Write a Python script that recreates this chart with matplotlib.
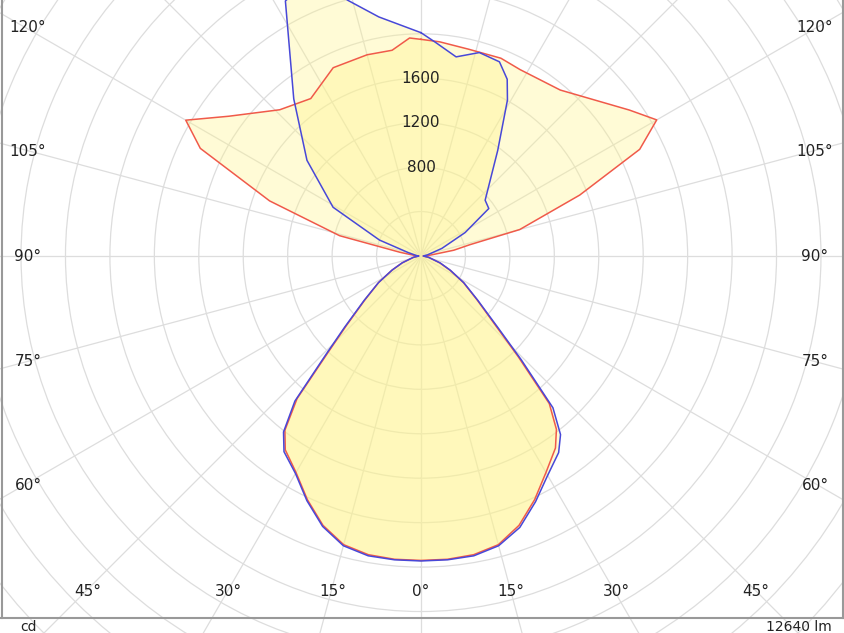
import numpy as np
import matplotlib
matplotlib.use("Agg")
import matplotlib.pyplot as plt

# Red curve (C0-C180 plane), angle in degrees (0 = nadir, + right), intensity cd
red_ang = [-180, -177, -172, -165, -155, -145, -136, -126, -120, -116, -110, -104, -100, -95, -90,
           -80, -70, -64, -58, -52, -47, -44, -41, -38, -35, -30, -25, -20, -15, -10, -5, 0,
           5, 10, 15, 20, 25, 30, 35, 38, 41, 44, 47, 52, 58, 64, 70, 80,
           90, 95, 100, 103, 105, 111, 116, 120, 125, 140, 152, 158, 167, 175, 180]
red_cd = [1950, 1965, 1870, 1875, 1870, 1730, 1830, 2140, 2445, 2210, 1450, 755, 190, 60, 20,
          70, 180, 290, 450, 640, 920, 1200, 1700, 1990, 2130, 2250, 2420, 2580, 2690, 2730, 2740, 2740,
          2740, 2730, 2690, 2580, 2420, 2250, 2110, 1980, 1760, 1260, 920, 640, 450, 290, 180, 70,
          20, 80, 300, 450, 920, 1530, 2190, 2450, 2290, 1950, 1900, 1920, 1910, 1935, 1950]
# Blue curve (C90-C270 plane)
blue_ang = [-180, -170, -164, -159, -152, -141, -130, -119, -111, -105, -95, -90,
            -80, -70, -64, -58, -52, -47, -44, -41, -38, -35, -30, -25, -20, -15, -10, -5, 0,
            5, 10, 15, 20, 25, 30, 35, 38, 41, 44, 47, 52, 58, 64, 70, 80,
            90, 100, 110, 118, 124, 125, 131, 144, 151, 154, 158, 164, 170, 176, 180]
blue_cd = [2010, 2185, 2395, 2700, 2600, 1820, 1340, 905, 400, 120, 40, 20,
           70, 180, 290, 450, 650, 940, 1230, 1730, 2010, 2150, 2260, 2430, 2590, 2700, 2740, 2745, 2745,
           2745, 2740, 2700, 2600, 2440, 2280, 2160, 2040, 1810, 1300, 950, 650, 455, 295, 185, 70,
           20, 60, 200, 450, 680, 745, 765, 1175, 1605, 1770, 1885, 1905, 1820, 1925, 2010]
ring_labels = [800, 1200, 1600]
side_labels = [120, 105, 90, 75, 60]
bottom_labels = [45, 30, 15, 0, 15, 30, 45]

W, H = 844, 633
fig = plt.figure(figsize=(W/100, H/100), dpi=100)
cx, cy = 421, 256
rmax = 6000
R = rmax * 0.1111
ax = fig.add_axes([(cx-R)/W, (H-cy-R)/H, 2*R/W, 2*R/H], projection='polar')
ax.set_theta_zero_location('S')
ax.set_theta_direction(1)
ax.set_rlim(0, rmax)
ax.set_rticks(np.arange(400, rmax, 400))
ax.set_thetagrids(np.arange(0, 360, 15))
ax.set_yticklabels([]); ax.set_xticklabels([])
ax.grid(color='#dddddd', lw=0.9)
ax.spines['polar'].set_visible(False)
ax.set_facecolor('none')

for ang, cd, col in [(red_ang, red_cd, '#f05a4a'), (blue_ang, blue_cd, '#4848d8')]:
    t = np.radians(ang)
    ax.fill(t, cd, color='#fff48a', alpha=0.35, lw=0, zorder=2)
    ax.plot(t, cd, color=col, lw=1.1, zorder=3)

for v in ring_labels:
    ax.text(np.pi, v, str(v), ha='center', va='center', fontsize=11, color='#222222', zorder=4)

ys = [28, 152, 257, 361, 485]
for lab, y in zip(side_labels, ys):
    fig.text(28/W, 1-y/H, f"{lab}°", ha='center', va='center', fontsize=11, color='#222222')
    fig.text(815/W, 1-y/H, f"{lab}°", ha='center', va='center', fontsize=11, color='#222222')
for lab, x in zip(bottom_labels, [88, 228, 333, 421, 511, 616, 756]):
    fig.text(x/W, 1-591/H, f"{lab}°", ha='center', va='center', fontsize=11, color='#222222')

# frame
from matplotlib.lines import Line2D
for xs, yy in [([1.5, 1.5], [0, 618]), ([842.5, 842.5], [0, 618]), ([0, 844], [618, 618])]:
    fig.add_artist(Line2D(np.array(xs)/W, 1-np.array(yy)/H, color='#999999', lw=1.5))
fig.text(20/W, 1-627/H, "cd", ha='left', va='center', fontsize=10, color='#222222')
fig.text(832/W, 1-627/H, "12640 lm", ha='right', va='center', fontsize=10, color='#222222')

fig.savefig("out.png", dpi=100)
